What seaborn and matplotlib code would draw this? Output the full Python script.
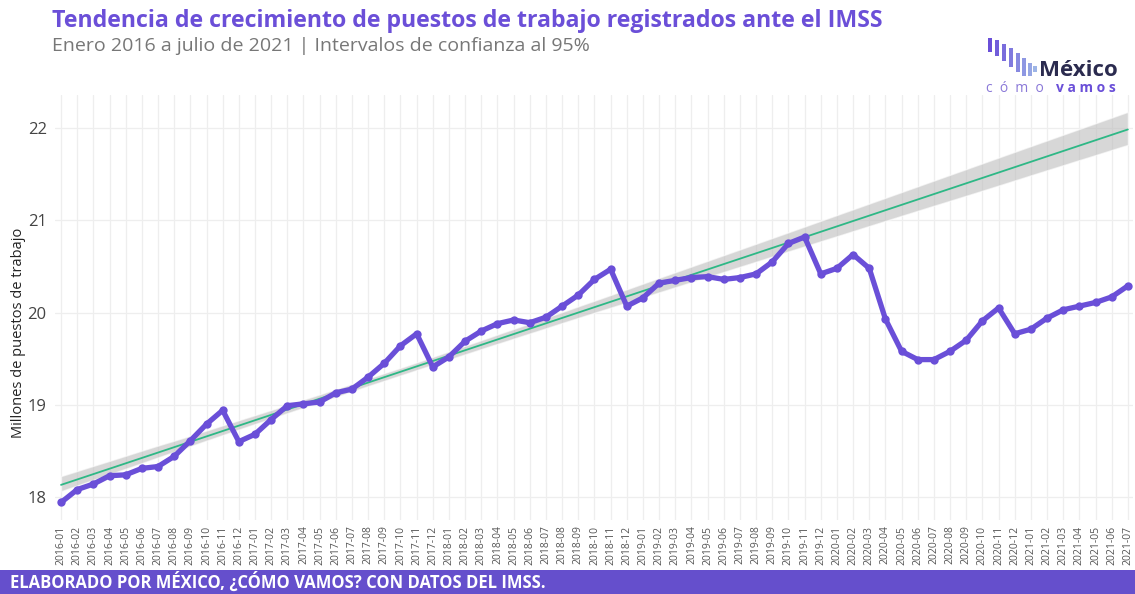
import numpy as np
import pandas as pd
import matplotlib.pyplot as plt
import seaborn as sns
from matplotlib.patches import Rectangle

# =====================================================================
# DATA (millones de puestos de trabajo, IMSS)
# =====================================================================
months = [f"{y}-{m:02d}" for y in range(2016, 2022) for m in range(1, 13)][:67]

puestos = [
    17.94, 18.08, 18.14, 18.23, 18.24, 18.31, 18.33, 18.44, 18.61, 18.79, 18.94, 18.60,  # 2016
    18.68, 18.84, 18.99, 19.01, 19.03, 19.13, 19.17, 19.30, 19.45, 19.64, 19.77, 19.41,  # 2017
    19.52, 19.69, 19.80, 19.88, 19.92, 19.89, 19.95, 20.07, 20.19, 20.36, 20.47, 20.07,  # 2018
    20.16, 20.32, 20.35, 20.38, 20.39, 20.36, 20.38, 20.42, 20.55, 20.75, 20.82, 20.42,  # 2019
    20.48, 20.63, 20.48, 19.93, 19.58, 19.49, 19.49, 19.58, 19.70, 19.91, 20.05, 19.77,  # 2020
    19.82, 19.94, 20.03, 20.07, 20.11, 20.17, 20.29,                                      # 2021
]

# periodo usado para la tendencia (antes de la pandemia)
fit_end = "2019-12"

df = pd.DataFrame({"mes": months, "puestos": puestos})
df["t"] = np.arange(len(df))
df_fit = df[df["t"] <= months.index(fit_end)]

PURPLE = "#6A4FD8"
GREEN = "#2EB886"
TITLE_PURPLE = "#6B4FD8"

# =====================================================================
# PLOT
# =====================================================================
sns.set_theme(style="white")
plt.rcParams['font.family'] = ['Open Sans', 'DejaVu Sans']

fig = plt.figure(figsize=(11.35, 5.94), dpi=100)
ax = fig.add_axes([0.0485, 0.1246, 0.9495, 0.7154])

# trend with 95% CI, extended over the whole period
ax.set_xlim(df["t"].min(), df["t"].max())
sns.regplot(data=df_fit, x="t", y="puestos", scatter=False, truncate=False,
            ci=95, seed=1, color=GREEN, line_kws={"linewidth": 1.3}, ax=ax)
for coll in ax.collections:
    coll.set_facecolor("#BDBDBD")
    coll.set_alpha(0.6)

sns.lineplot(data=df, x="t", y="puestos", color=PURPLE, linewidth=3.8,
             marker="o", markersize=6, markeredgewidth=0, zorder=4, ax=ax)

ax.set_xlim(-0.37, 66.3)
ax.set_ylim(17.75, 22.36)
ax.set_xticks(df["t"])
ax.set_xticklabels(df["mes"], rotation=90, fontsize=7.5, color="#555555")
ax.set_yticks([18, 19, 20, 21, 22])
ax.tick_params(axis='y', labelsize=12, colors="#444444", length=0, pad=6)
ax.tick_params(axis='x', length=0, pad=4)

ax.grid(True, color="#EEEEEE", linewidth=0.9)
ax.set_axisbelow(True)
for s in ax.spines.values():
    s.set_visible(False)

ax.set_xlabel("")
ax.set_ylabel("Millones de puestos de trabajo", fontsize=10.5, color="#222222")
ax.yaxis.set_label_coords(-0.027, 0.44)

# titles
fig.text(0.046, 0.965, "Tendencia de crecimiento de puestos de trabajo registrados ante el IMSS",
         fontsize=16.7, fontweight="bold", color=TITLE_PURPLE, va="center")
fig.text(0.046, 0.922, "Enero 2016 a julio de 2021 | Intervalos de confianza al 95%",
         fontsize=14, color="#777777", va="center")

# footer band
fig.patches.append(Rectangle((0, 0), 1, 0.04, transform=fig.transFigure,
                             facecolor="#654FCC", edgecolor="none", zorder=0))
fig.text(0.009, 0.02, "ELABORADO POR MÉXICO, ¿CÓMO VAMOS? CON DATOS DEL IMSS.",
         fontsize=12, fontweight="bold", color="white", va="center")

# logo (bars in figure pixels)
W, H = 1135, 594
bar_x = [988, 995, 1002, 1009, 1016, 1022, 1028, 1033]
bar_top = [38, 40, 44, 48, 53, 58, 63, 66]
bar_bot = [52, 56, 61, 67, 72, 76, 76, 72]
bar_c = sns.blend_palette(["#6A4FD8", "#9DB4E6"], len(bar_x))
for x0, t0, b0, c in zip(bar_x, bar_top, bar_bot, bar_c):
    fig.patches.append(Rectangle((x0 / W, 1 - b0 / H), 3.5 / W, (b0 - t0) / H,
                                 transform=fig.transFigure, facecolor=c,
                                 edgecolor="none"))
fig.text(1039 / W, 1 - 71 / H, "México", fontsize=16, fontweight="bold",
         color="#2B2B4F", va="center")
fig.text(986 / W, 1 - 88 / H, "c  ó  m  o", fontsize=10, color="#8A78D8", va="center")
fig.text(1056 / W, 1 - 88 / H, "v a m o s", fontsize=10, fontweight="bold",
         color="#6A4FD8", va="center")

plt.savefig("out.png", dpi=100)
